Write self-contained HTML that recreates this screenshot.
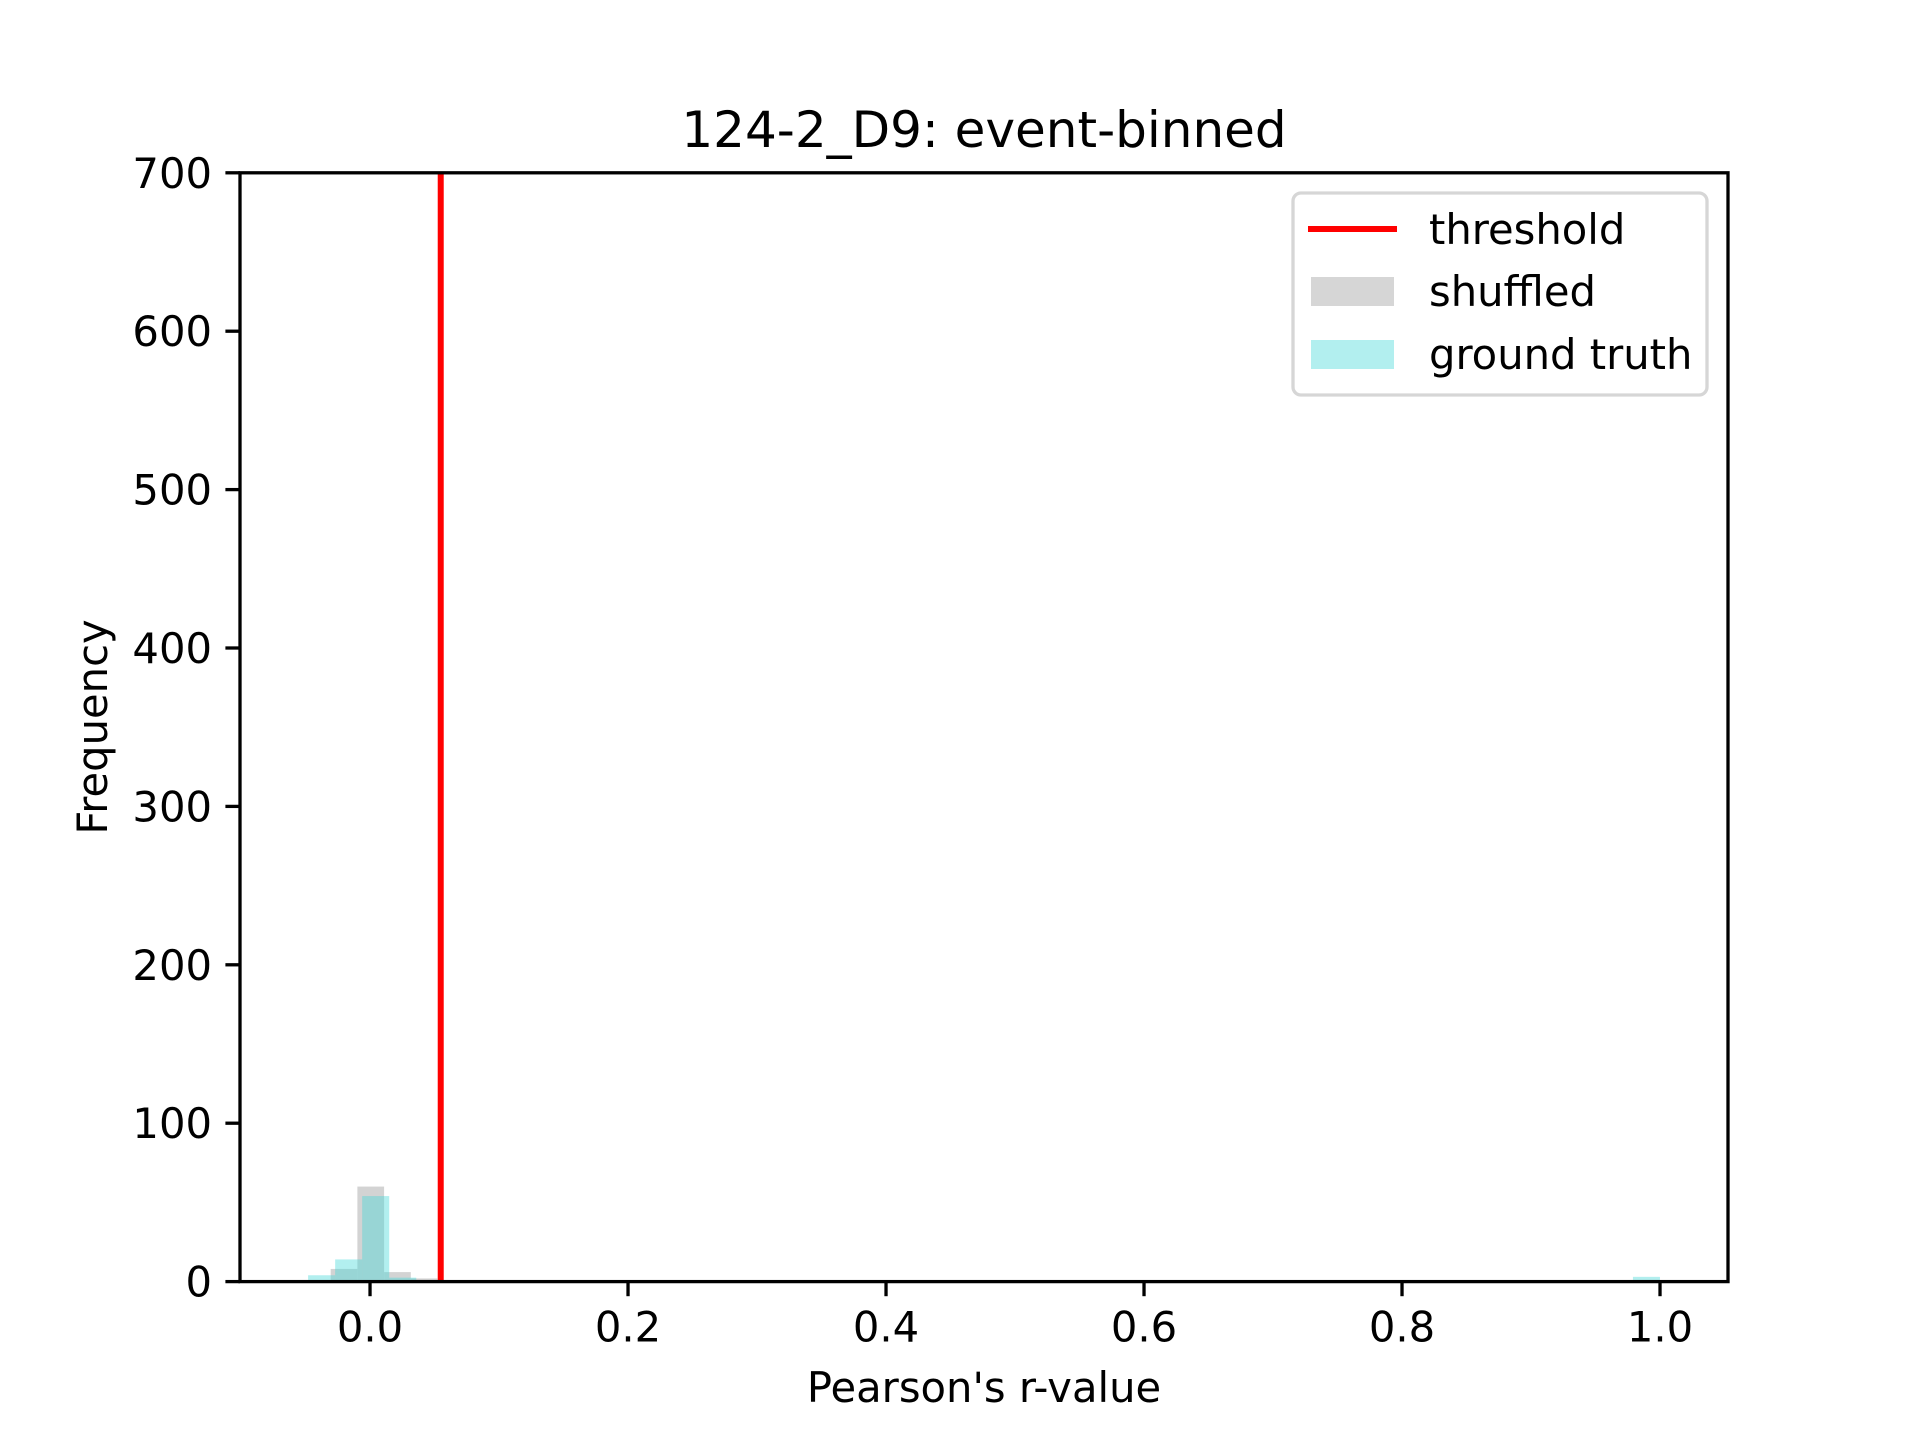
<!DOCTYPE html>
<html><head><meta charset="utf-8"><style>html,body{margin:0;padding:0;background:#fff}svg{display:block}text{font-family:"DejaVu Sans","Liberation Sans",sans-serif;fill:#000}</style></head>
<body>
<svg id="chart" width="1920" height="1440" viewBox="0 0 1920 1440" xmlns="http://www.w3.org/2000/svg">
<rect width="1920" height="1440" fill="#fff"/>
<g id="plot"></g>
<text x="984" y="147" font-size="50" text-anchor="middle">124-2_D9: event-binned</text>
<text x="984" y="1402" font-size="41.7" text-anchor="middle">Pearson's r-value</text>
<text transform="translate(107,727) rotate(-90)" font-size="41.7" text-anchor="middle">Frequency</text>
<g>
<rect x="1293" y="193" width="414" height="202" rx="8" fill="#fff" fill-opacity="0.8" stroke="#d6d6d6" stroke-width="3.3"/>
<line x1="1308" y1="229" x2="1397" y2="229" stroke="#ff0000" stroke-width="6"/>
<text x="1429" y="244" font-size="41.7">threshold</text>
<rect x="1311" y="277" width="83" height="29" fill="#d6d6d6"/>
<text x="1429" y="306" font-size="41.7">shuffled</text>
<rect x="1311" y="340" width="83" height="29" fill="#b2efef"/>
<text x="1429" y="369" font-size="41.7">ground truth</text>
</g>
</svg>
<script>
const shuffledEdgesStart = -0.0305;
const shuffledBinWidth = 0.0207;
const shuffledCounts = [8, 60, 6, 2, 1, 1];
const truthEdgesStart = -0.048;
const truthBinWidth = 0.02096;
const truthCounts = [4, 14, 54, 2.5, 0, 0.8, 0.8, 0.3];
const truthOutlierX = [0.979];
const truthOutlierCounts = [3];
const thresholdValue = 0.0548;
const xTicks = [0.0, 0.2, 0.4, 0.6, 0.8, 1.0];
const xTickLabels = ["0.0", "0.2", "0.4", "0.6", "0.8", "1.0"];
const yTicks = [0, 100, 200, 300, 400, 500, 600, 700];

const L=240,R=1728,T=172.8,B=1281.6;
const xMin=-0.1008,xMax=1.0527,yMin=0,yMax=700;
const sx=v=>L+(v-xMin)/(xMax-xMin)*(R-L);
const sy=v=>B-(v-yMin)/(yMax-yMin)*(B-T);
const NS='http://www.w3.org/2000/svg';
const g=document.getElementById('plot');
function mk(tag,attrs){const e=document.createElementNS(NS,tag);for(const k in attrs)e.setAttribute(k,attrs[k]);g.appendChild(e);return e;}
shuffledCounts.forEach((c,i)=>{const x0=sx(shuffledEdgesStart+i*shuffledBinWidth),x1=sx(shuffledEdgesStart+(i+1)*shuffledBinWidth);
const r=mk('rect',{x:x0,y:sy(c),width:x1-x0,height:B-sy(c),fill:'#d3d3d3'});

});
truthCounts.forEach((c,i)=>{const x0=sx(truthEdgesStart+i*truthBinWidth),x1=sx(truthEdgesStart+(i+1)*truthBinWidth);
const r=mk('rect',{x:x0,y:sy(c),width:x1-x0,height:B-sy(c),fill:'rgb(67,216,216)','fill-opacity':0.41});

});
truthOutlierX.forEach((v,i)=>{const x0=sx(v),x1=sx(v+truthBinWidth),c=truthOutlierCounts[i];
const r=mk('rect',{x:x0,y:sy(c),width:x1-x0,height:B-sy(c),fill:'rgb(67,216,216)','fill-opacity':0.41});

});
const th=mk('line',{x1:sx(thresholdValue),x2:sx(thresholdValue),y1:T,y2:B,stroke:'#ff0000','stroke-width':6});


const fr=mk('rect',{x:L,y:T,width:R-L,height:B-T,fill:'none',stroke:'#000','stroke-width':3.3});


xTicks.forEach((v,i)=>{const x=sx(v);
const t=mk('line',{x1:x,x2:x,y1:B,y2:B+14.6,stroke:'#000','stroke-width':3.3});


const tx=mk('text',{x:x,y:B+60,'font-size':41.7,'text-anchor':'middle'});tx.textContent=xTickLabels[i];

});
yTicks.forEach(v=>{const y=sy(v);
const t=mk('line',{x1:L-14.6,x2:L,y1:y,y2:y,stroke:'#000','stroke-width':3.3});


const tx=mk('text',{x:L-28,y:y+15,'font-size':41.7,'text-anchor':'end'});tx.textContent=String(v);

});
</script>
</body></html>
